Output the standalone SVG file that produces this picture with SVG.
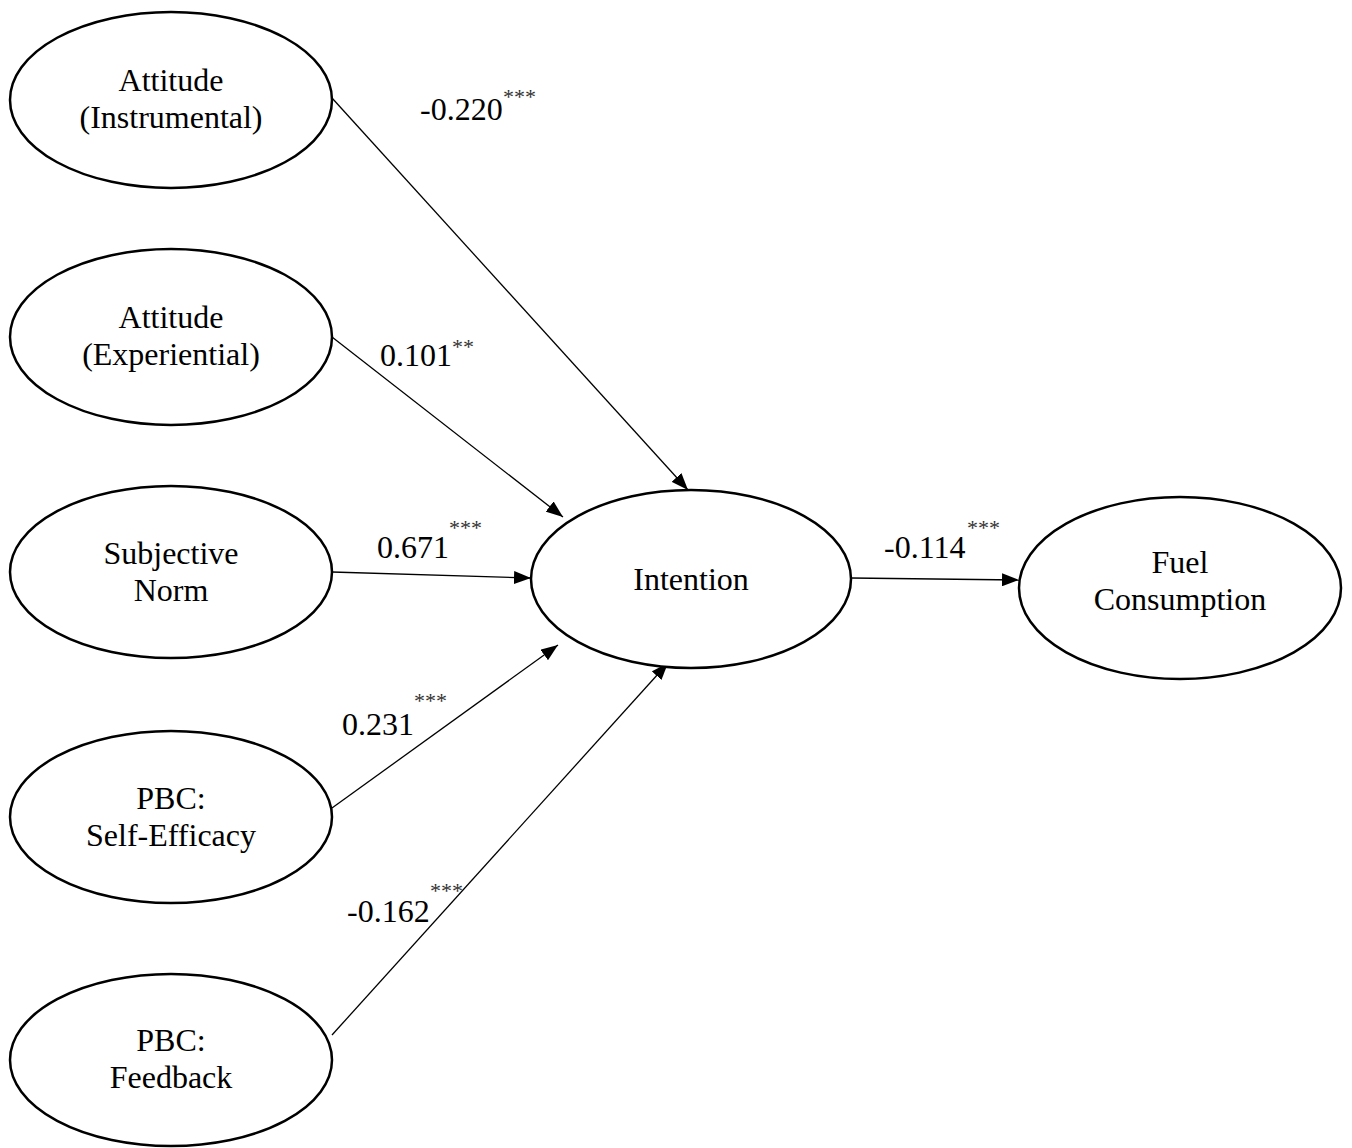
<svg xmlns="http://www.w3.org/2000/svg" width="1352" height="1148" viewBox="0 0 1352 1148">
<defs>
<marker id="arr" viewBox="0 0 17 13" refX="17" refY="6.5" markerWidth="17" markerHeight="13" markerUnits="userSpaceOnUse" orient="auto">
<path d="M0,0 L17,6.5 L0,13 Z" fill="#000"/>
</marker>
</defs>
<style>
.node ellipse{fill:#fff;stroke:#000;stroke-width:2.5}
.node text{font-family:"Liberation Serif","Times New Roman",serif;font-size:32px;text-anchor:middle;fill:#000}
.lbl{font-family:"Liberation Serif","Times New Roman",serif;font-size:32px;fill:#000}
.sup{font-family:"Liberation Serif","Times New Roman",serif;font-size:22px;fill:#333}
#connectors line{stroke:#000;stroke-width:1.3;marker-end:url(#arr)}
</style>
<rect width="1352" height="1148" fill="#fff"/>
<g id="connectors">
<line x1="332" y1="98" x2="688" y2="490"/>
<line x1="332" y1="337" x2="563" y2="517"/>
<line x1="332" y1="572" x2="531" y2="578"/>
<line x1="332" y1="808" x2="558" y2="645"/>
<line x1="332" y1="1035" x2="668" y2="663"/>
<line x1="851" y1="578" x2="1019" y2="580"/>
</g>
<g id="labels">
<text class="lbl" x="420" y="120">-0.220</text><text class="sup" x="503" y="104">***</text>
<text class="lbl" x="380" y="366">0.101</text><text class="sup" x="452" y="354">**</text>
<text class="lbl" x="377" y="558">0.671</text><text class="sup" x="449" y="535">***</text>
<text class="lbl" x="342" y="735">0.231</text><text class="sup" x="414" y="708">***</text>
<text class="lbl" x="347" y="922">-0.162</text><text class="sup" x="430" y="898">***</text>
<text class="lbl" x="884" y="558">-0.114</text><text class="sup" x="967" y="535">***</text>
</g>
<g id="att-instr" class="node">
<ellipse cx="171" cy="100" rx="161" ry="88"/>
<text x="171" y="91">Attitude</text>
<text x="171" y="128">(Instrumental)</text>
</g>
<g id="att-exp" class="node">
<ellipse cx="171" cy="337" rx="161" ry="88"/>
<text x="171" y="328">Attitude</text>
<text x="171" y="365">(Experiential)</text>
</g>
<g id="subj-norm" class="node">
<ellipse cx="171" cy="572" rx="161" ry="86"/>
<text x="171" y="564">Subjective</text>
<text x="171" y="601">Norm</text>
</g>
<g id="pbc-se" class="node">
<ellipse cx="171" cy="817" rx="161" ry="86"/>
<text x="171" y="809">PBC:</text>
<text x="171" y="846">Self-Efficacy</text>
</g>
<g id="pbc-fb" class="node">
<ellipse cx="171" cy="1060" rx="161" ry="86"/>
<text x="171" y="1051">PBC:</text>
<text x="171" y="1088">Feedback</text>
</g>
<g id="intention" class="node">
<ellipse cx="691" cy="579" rx="160" ry="89"/>
<text x="691" y="590">Intention</text>
</g>
<g id="fuel" class="node">
<ellipse cx="1180" cy="588" rx="161" ry="91"/>
<text x="1180" y="573">Fuel</text>
<text x="1180" y="610">Consumption</text>
</g>
</svg>
